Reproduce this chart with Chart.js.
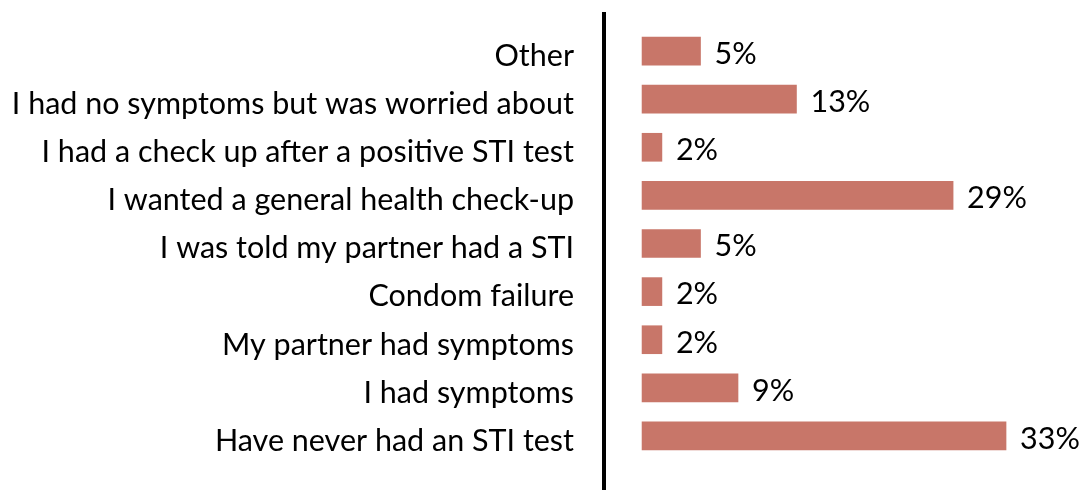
<!DOCTYPE html>
<html>
<head>
<meta charset="utf-8">
<script src="https://cdn.jsdelivr.net/npm/chart.js@4"></script>
<style>
  html, body { margin: 0; padding: 0; background: #fff; }
  #wrap { width: 1083px; height: 490px; position: relative; }
</style>
</head>
<body>
<div id="wrap"><canvas id="reasonChart"></canvas></div>
<script>
// reasons for STI test, top to bottom as in the picture
const categories = [
    'Other',
    'I had no symptoms but was worried about',
    'I had a check up after a positive STI test',
    'I wanted a general health check-up',
    'I was told my partner had a STI',
    'Condom failure',
    'My partner had symptoms',
    'I had symptoms',
    'Have never had an STI test'
];
// bar lengths (%)
const values = [5.3, 14, 1.8, 28.2, 5.3, 1.8, 1.8, 8.7, 33];
// printed value labels
const valueLabels = ['5%', '13%', '2%', '29%', '5%', '2%', '2%', '9%', '33%'];

const FONT = 'Lato, "Open Sans", sans-serif';

// black vertical line and value labels
const extras = {
    id: 'extras',
    afterDatasetsDraw(chart) {
        const ctx = chart.ctx;
        const x0 = chart.scales.x.getPixelForValue(chart.scales.x.min);
        ctx.save();
        ctx.fillStyle = '#000';
        ctx.fillRect(x0 - 2, 12, 4, chart.height - 12);

        const meta = chart.getDatasetMeta(0);
        ctx.font = '30.5px ' + FONT;
        ctx.textAlign = 'left';
        ctx.textBaseline = 'middle';
        ctx.fillStyle = '#000';
        meta.data.forEach((bar, i) => {
            ctx.fillText(valueLabels[i], bar.x + 14, bar.y + 3);
        });
        ctx.restore();
    }
};

new Chart(document.getElementById('reasonChart'), {
    type: 'bar',
    data: {
        labels: categories,
        datasets: [{
            data: values,
            backgroundColor: '#c87669',
            borderWidth: 0,
            barThickness: 28
        }]
    },
    options: {
        indexAxis: 'y',
        responsive: true,
        maintainAspectRatio: false,
        animation: false,
        layout: { padding: { top: 27, bottom: 30, right: 13, left: 0 } },
        plugins: { legend: { display: false }, tooltip: { enabled: false } },
        scales: {
            x: {
                display: false,
                min: -3.45,
                max: 38.8
            },
            y: {
                afterFit(s) {
                    s.width = 604;
                    s.paddingTop = 0;
                    s.paddingBottom = 0;
                },
                grid: { display: false, drawTicks: false },
                border: { display: false },
                ticks: {
                    padding: 30,
                    labelOffset: 5,
                    color: '#000',
                    font: { family: FONT, size: 30.5 }
                }
            }
        }
    },
    plugins: [extras]
});
</script>
</body>
</html>
